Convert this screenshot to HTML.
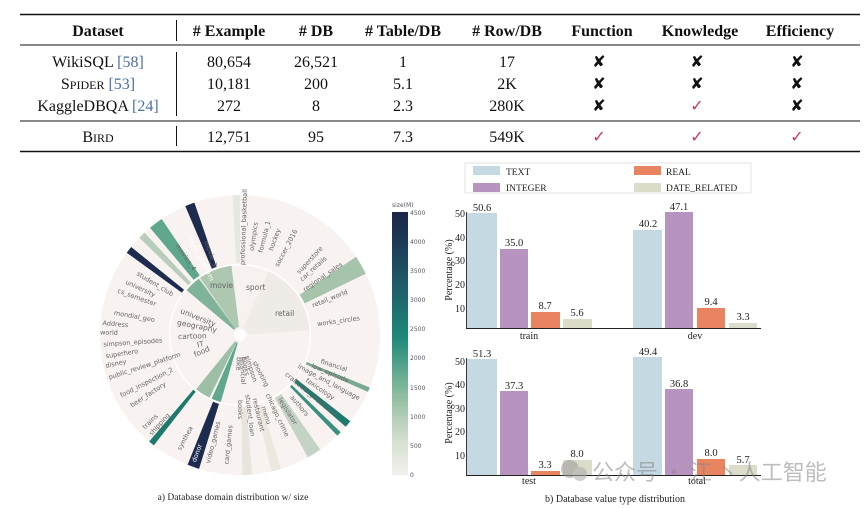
<!DOCTYPE html>
<html><head><meta charset="utf-8"><style>
html,body{margin:0;padding:0;background:#fff;}
body{width:865px;height:508px;position:relative;overflow:hidden;font-family:"Liberation Serif",serif;}
svg{position:absolute;left:0;top:0;}
</style></head><body>
<svg width="865" height="508" viewBox="0 0 865 508" xmlns="http://www.w3.org/2000/svg">
<!-- TABLE -->
<g font-family="Liberation Serif, serif" fill="#111" text-anchor="middle">
<line x1="20" y1="14.5" x2="860" y2="14.5" stroke="#111" stroke-width="1.6"/>
<line x1="20" y1="45" x2="860" y2="45" stroke="#111" stroke-width="0.9"/>
<line x1="20" y1="121" x2="860" y2="121" stroke="#111" stroke-width="0.9"/>
<line x1="20" y1="151.5" x2="860" y2="151.5" stroke="#111" stroke-width="1.6"/>
<line x1="176.5" y1="20" x2="176.5" y2="41" stroke="#111"/>
<line x1="176.5" y1="52" x2="176.5" y2="116" stroke="#111"/>
<line x1="176.5" y1="126" x2="176.5" y2="146" stroke="#111"/>
<g font-weight="bold" font-size="16">
<text x="98" y="36">Dataset</text><text x="229" y="36"># Example</text><text x="316" y="36"># DB</text>
<text x="403" y="36"># Table/DB</text><text x="507" y="36"># Row/DB</text><text x="602" y="36">Function</text>
<text x="700" y="36">Knowledge</text><text x="800" y="36">Efficiency</text></g>
<g font-size="16">
<text x="98" y="67">WikiSQL <tspan fill="#4a6fa5">[58]</tspan></text>
<text x="98" y="89">S<tspan font-size="12">PIDER</tspan> <tspan fill="#4a6fa5">[53]</tspan></text>
<text x="98" y="111">KaggleDBQA <tspan fill="#4a6fa5">[24]</tspan></text>
<text x="98" y="142">B<tspan font-size="12">IRD</tspan></text>
<text x="229" y="67">80,654</text><text x="229" y="89">10,181</text><text x="229" y="111">272</text><text x="229" y="142">12,751</text>
<text x="316" y="67">26,521</text><text x="316" y="89">200</text><text x="316" y="111">8</text><text x="316" y="142">95</text>
<text x="403" y="67">1</text><text x="403" y="89">5.1</text><text x="403" y="111">2.3</text><text x="403" y="142">7.3</text>
<text x="507" y="67">17</text><text x="507" y="89">2K</text><text x="507" y="111">280K</text><text x="507" y="142">549K</text>
</g>
<g font-family="DejaVu Sans, sans-serif" font-size="16" font-weight="bold">
<text x="599" y="67">✘</text><text x="697" y="67">✘</text><text x="797" y="67">✘</text>
<text x="599" y="89">✘</text><text x="697" y="89">✘</text><text x="797" y="89">✘</text>
<text x="599" y="111">✘</text><text x="697" y="111" fill="#c8385a" font-weight="normal">✓</text><text x="797" y="111">✘</text>
<text x="599" y="142" fill="#c8385a" font-weight="normal">✓</text><text x="697" y="142" fill="#c8385a" font-weight="normal">✓</text><text x="797" y="142" fill="#c8385a" font-weight="normal">✓</text>
</g>
</g>

<!-- SUNBURST -->
<g fill="none">
<circle cx="240" cy="335" r="140" fill="#f8f2f0"/>
<g stroke-width="62" >
<circle cx="240" cy="335" r="39" pathLength="360" stroke="#efebe7" stroke-dasharray="62 360" transform="rotate(-66 240 335)"/>
<circle cx="240" cy="335" r="39" pathLength="360" stroke="#f7f1ef" stroke-dasharray="30 360" transform="rotate(-96 240 335)"/>
<circle cx="240" cy="335" r="39" pathLength="360" stroke="#adc7b1" stroke-dasharray="28 360" transform="rotate(-125 240 335)"/>
<circle cx="240" cy="335" r="39" pathLength="360" stroke="#7fb49a" stroke-dasharray="14 360" transform="rotate(-140 240 335)"/>
<circle cx="240" cy="335" r="39" pathLength="360" stroke="#9dbfa5" stroke-dasharray="13 360" transform="rotate(116 240 335)"/>
<circle cx="240" cy="335" r="39" pathLength="360" stroke="#5fa88d" stroke-dasharray="8 360" transform="rotate(106 240 335)"/>
</g>
<g stroke-width="68">
<circle cx="240" cy="335" r="106" pathLength="360" stroke="#1d2b4f" stroke-dasharray="4 360" transform="rotate(-113 240 335)"/>
<circle cx="240" cy="335" r="106" pathLength="360" stroke="#5fa88d" stroke-dasharray="6 360" transform="rotate(-130 240 335)"/>
<circle cx="240" cy="335" r="106" pathLength="360" stroke="#b9cdbd" stroke-dasharray="3 360" transform="rotate(-136 240 335)"/>
<circle cx="240" cy="335" r="106" pathLength="360" stroke="#1d2b4f" stroke-dasharray="3 360" transform="rotate(-144 240 335)"/>
<circle cx="240" cy="335" r="106" pathLength="360" stroke="#e4e8e0" stroke-dasharray="3 360" transform="rotate(-93 240 335)"/>
<circle cx="240" cy="335" r="106" pathLength="360" stroke="#a6c3ac" stroke-dasharray="8 360" transform="rotate(-34 240 335)"/>
<circle cx="240" cy="335" r="106" pathLength="360" stroke="#1f7a6e" stroke-dasharray="3 360" transform="rotate(38 240 335)"/>
<circle cx="240" cy="335" r="106" pathLength="360" stroke="#3a8f7e" stroke-dasharray="2 360" transform="rotate(44 240 335)"/>
<circle cx="240" cy="335" r="106" pathLength="360" stroke="#c5d3c6" stroke-dasharray="6 360" transform="rotate(55 240 335)"/>
<circle cx="240" cy="335" r="106" pathLength="360" stroke="#7aa890" stroke-dasharray="2 360" transform="rotate(22 240 335)"/>
<circle cx="240" cy="335" r="106" pathLength="360" stroke="#1d2b4f" stroke-dasharray="5 360" transform="rotate(107 240 335)"/>
<circle cx="240" cy="335" r="106" pathLength="360" stroke="#1f7a6e" stroke-dasharray="2.5 360" transform="rotate(128 240 335)"/>
<circle cx="240" cy="335" r="106" pathLength="360" stroke="#e6e6dc" stroke-dasharray="4 360" transform="rotate(85 240 335)"/>
<circle cx="240" cy="335" r="106" pathLength="360" stroke="#ebe8e0" stroke-dasharray="4 360" transform="rotate(73 240 335)"/>
</g>
<circle cx="240" cy="335" r="70.5" stroke="#fff" stroke-width="1.5"/>
<circle cx="240" cy="335" r="6" fill="#fff"/>
</g>
<g font-family="DejaVu Sans, sans-serif" font-size="6.5" fill="#666">
<text transform="rotate(-8 240 335)" x="318" y="337">works_circles</text>
<text transform="rotate(-22 240 335)" x="318" y="337">retail_world</text>
<text transform="rotate(-35 240 335)" x="318" y="337">regional_sales</text>
<text transform="rotate(-42 240 335)" x="322" y="337">car_retails</text>
<text transform="rotate(-47 240 335)" x="325" y="337">superstore</text>
<text transform="rotate(-62 240 335)" x="318" y="337">soccer_2016</text>
<text transform="rotate(-70 240 335)" x="330" y="337">hockey</text>
<text transform="rotate(-76 240 335)" x="325" y="337">formula_1</text>
<text transform="rotate(-82 240 335)" x="325" y="337">olympics</text>
<text transform="rotate(-88 240 335)" x="310" y="337">professional_basketball</text>
<text transform="rotate(18 240 335)" x="325" y="337">financial</text>
<text transform="rotate(23 240 335)" x="318" y="337">law_episode</text>
<text transform="rotate(28 240 335)" x="306" y="337">image_and_language</text>
<text transform="rotate(34 240 335)" x="320" y="337">toxicology</text>
<text transform="rotate(40 240 335)" x="300" y="337">craftbeer_prediction</text>
<text transform="rotate(50 240 335)" x="320" y="337">authors</text>
<text transform="rotate(58 240 335)" x="315" y="337">legislator</text>
<text transform="rotate(65 240 335)" x="305" y="337">chicago_crime</text>
<text transform="rotate(72 240 335)" x="315" y="337">menu</text>
<text transform="rotate(77 240 335)" x="305" y="337">restaurant</text>
<text transform="rotate(83 240 335)" x="300" y="337">student_loan</text>
<text transform="rotate(90 240 335)" x="305" y="337">books</text>
<text transform="rotate(62 240 335)" x="270" y="337">shooting</text>
<text transform="rotate(72 240 335)" x="262" y="337">simpson</text>
<text transform="rotate(80 240 335)" x="262" y="337">books</text>
<text transform="rotate(86 240 335)" x="262" y="337">financial</text>
<text transform="rotate(93 240 335)" x="262" y="337">bike</text>
<text transform="rotate(-84 240 335)" x="110" y="337">card_games</text>
<text transform="rotate(-76 240 335)" x="108" y="337">video_games</text>
<text transform="rotate(-70 240 335)" x="105" y="337" fill="#fff">donor</text>
<text transform="rotate(-62 240 335)" x="110" y="337">synthea</text>
<text transform="rotate(-48 240 335)" x="106" y="337">shipping</text>
<text transform="rotate(-44 240 335)" x="106" y="337">trains</text>
<text transform="rotate(-33 240 335)" x="110" y="337">beer_factory</text>
<text transform="rotate(-27 240 335)" x="106" y="337">food_inspection_2</text>
<text transform="rotate(-18 240 335)" x="102" y="337">public_review_platform</text>
<text transform="rotate(-13 240 335)" x="102" y="337">disney</text>
<text transform="rotate(-9 240 335)" x="104" y="337">superhero</text>
<text transform="rotate(-4 240 335)" x="103" y="337">simpson_episodes</text>
<text transform="rotate(1 240 335)" x="100" y="337">world</text>
<text transform="rotate(5 240 335)" x="102" y="337">Address</text>
<text transform="rotate(10 240 335)" x="112" y="337">mondial_geo</text>
<text transform="rotate(20 240 335)" x="110" y="337">cs_semester</text>
<text transform="rotate(25 240 335)" x="114" y="337">university</text>
<text transform="rotate(31 240 335)" x="120" y="337">student_club</text>
<text transform="rotate(55 240 335)" x="130" y="337">movies_4</text>
<text transform="rotate(63 240 335)" x="128" y="337" fill="#fff">movie_platform</text>
<text transform="rotate(70 240 335)" x="140" y="337">movie_3</text>
<g font-size="7.5">
<text transform="rotate(22 240 335)" x="176" y="337">university</text>
<text transform="rotate(11 240 335)" x="176" y="337">geography</text>
<text transform="rotate(-2 240 335)" x="178" y="337">cartoon</text>
<text transform="rotate(-14 240 335)" x="196" y="337">IT</text>
<text transform="rotate(-24 240 335)" x="190" y="337">food</text>
<text x="210" y="288">movie</text>
<text x="246" y="290">sport</text>
<text x="275" y="316">retail</text>
</g>
</g>
<defs><linearGradient id="cb" x1="0" y1="0" x2="0" y2="1">
<stop offset="0" stop-color="#1b2548"/><stop offset="0.3" stop-color="#1f5f6a"/><stop offset="0.48" stop-color="#1f8a78"/>
<stop offset="0.7" stop-color="#8fbea0"/><stop offset="0.87" stop-color="#d6dfd0"/><stop offset="1" stop-color="#f3f1ed"/></linearGradient></defs>
<rect x="392" y="212" width="16" height="263" fill="url(#cb)"/>
<g font-family="DejaVu Sans, sans-serif" font-size="6" fill="#556">
<text x="392" y="207">size(M)</text>
<text x="410" y="215">4500</text><text x="410" y="244">4000</text><text x="410" y="273">3500</text><text x="410" y="302">3000</text>
<text x="410" y="331">2500</text><text x="410" y="360">2000</text><text x="410" y="390">1500</text><text x="410" y="419">1000</text>
<text x="410" y="448">500</text><text x="410" y="477">0</text></g>
<text x="233" y="500" font-size="9.5" text-anchor="middle" fill="#222">a) Database domain distribution w/ size</text>

<!-- BAR CHARTS -->
<rect x="465" y="163" width="286" height="30" fill="#fff" stroke="#ddd" stroke-width="0.8"/>
<rect x="473" y="166" width="27" height="9" fill="#c5d9e3"/><rect x="473" y="183" width="27" height="9" fill="#b794c0"/>
<rect x="634" y="166" width="27" height="9" fill="#e8845f"/><rect x="634" y="183" width="27" height="9" fill="#dcdccb"/>
<g font-size="9.5" fill="#222">
<text x="506" y="175">TEXT</text><text x="506" y="191">INTEGER</text><text x="666" y="175">REAL</text><text x="666" y="191">DATE_RELATED</text></g>
<g>
<rect x="467" y="213" width="30" height="115" fill="#c5d9e3"/><rect x="500" y="249" width="28" height="79" fill="#b794c0"/>
<rect x="531" y="312" width="29" height="16" fill="#e8845f"/><rect x="563" y="319" width="29" height="9" fill="#dcdccb"/>
<rect x="633" y="230" width="29" height="98" fill="#c5d9e3"/><rect x="665" y="212" width="28" height="116" fill="#b794c0"/>
<rect x="697" y="308" width="28" height="20" fill="#e8845f"/><rect x="729" y="323" width="28" height="5" fill="#dcdccb"/>
<rect x="467" y="359" width="30" height="116" fill="#c5d9e3"/><rect x="500" y="391" width="28" height="84" fill="#b794c0"/>
<rect x="531" y="471" width="29" height="4" fill="#e8845f"/><rect x="563" y="460" width="29" height="15" fill="#dcdccb"/>
<rect x="633" y="357" width="29" height="118" fill="#c5d9e3"/><rect x="665" y="389" width="28" height="86" fill="#b794c0"/>
<rect x="697" y="459" width="28" height="16" fill="#e8845f"/><rect x="729" y="465" width="28" height="10" fill="#dcdccb"/>
</g>
<g stroke="#222" stroke-width="0.9">
<line x1="466" y1="328.5" x2="761" y2="328.5"/><line x1="466.5" y1="212" x2="466.5" y2="328"/>
<line x1="466" y1="475.5" x2="761" y2="475.5"/><line x1="466.5" y1="358" x2="466.5" y2="475"/>
</g>
<g font-size="10.5" fill="#222" text-anchor="middle">
<text x="482" y="211">50.6</text><text x="514" y="246">35.0</text><text x="545" y="309">8.7</text><text x="577" y="316">5.6</text>
<text x="648" y="227">40.2</text><text x="679" y="210">47.1</text><text x="711" y="305">9.4</text><text x="743" y="320">3.3</text>
<text x="482" y="357">51.3</text><text x="514" y="389">37.3</text><text x="545" y="468">3.3</text><text x="577" y="457">8.0</text>
<text x="648" y="355">49.4</text><text x="679" y="387">36.8</text><text x="711" y="456">8.0</text><text x="743" y="463">5.7</text>
</g>
<g font-size="10" fill="#222" text-anchor="end">
<text x="465" y="217">50</text><text x="465" y="241">40</text><text x="465" y="264">30</text><text x="465" y="288">20</text><text x="465" y="312">10</text>
<text x="465" y="365">50</text><text x="465" y="388">40</text><text x="465" y="412">30</text><text x="465" y="435">20</text><text x="465" y="459">10</text>
</g>
<g font-size="10" fill="#222" text-anchor="middle">
<text x="529" y="339">train</text><text x="695" y="339">dev</text><text x="529" y="484">test</text><text x="697" y="484">total</text>
<text transform="rotate(-90 452 270)" x="452" y="270">Percentage (%)</text>
<text transform="rotate(-90 452 413)" x="452" y="413">Percentage (%)</text>
</g>
<text x="615" y="502" font-size="10" text-anchor="middle" fill="#222">b) Database value type distribution</text>
<g opacity="0.55">
<circle cx="570" cy="469" r="9" fill="#999"/><circle cx="580" cy="474" r="7" fill="#aaa"/>
<text x="592" y="480" font-family="Noto Sans CJK SC, sans-serif" font-size="22" fill="#888">公众号 · 江 丶人工智能</text>
</g>
</svg>
</body></html>
